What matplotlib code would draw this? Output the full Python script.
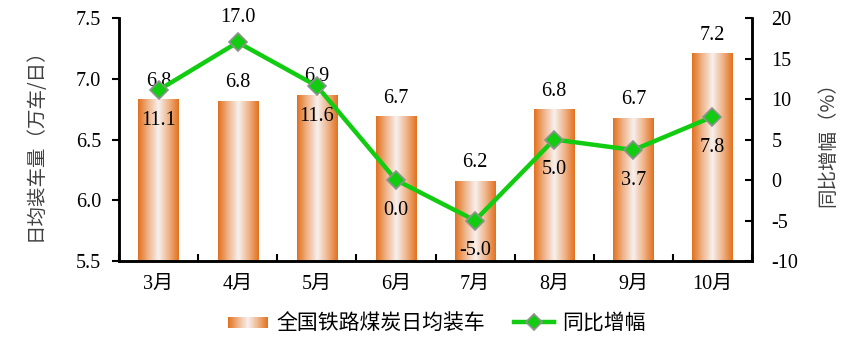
import matplotlib
matplotlib.use("Agg")
import matplotlib.pyplot as plt
import numpy as np
from matplotlib.colors import LinearSegmentedColormap
from matplotlib.legend_handler import HandlerBase
from matplotlib.patches import Rectangle
from matplotlib.lines import Line2D

months = ["3月", "4月", "5月", "6月", "7月", "8月", "9月", "10月"]
loading = [6.83, 6.82, 6.87, 6.69, 6.16, 6.75, 6.68, 7.21]
loading_labels = ["6.8", "6.8", "6.9", "6.7", "6.2", "6.8", "6.7", "7.2"]
yoy = [11.1, 17.0, 11.6, 0.0, -5.0, 5.0, 3.7, 7.8]
yoy_labels = ["11.1", "17.0", "11.6", "0.0", "-5.0", "5.0", "3.7", "7.8"]
yoy_above = [False, True, False, False, False, False, False, False]

SERIF = ["Liberation Serif", "Noto Sans CJK SC"]
CJK = ["Noto Sans CJK SC", "DejaVu Sans"]

cmap = LinearSegmentedColormap.from_list(
    "og", ["#E2701E", "#EFB48A", "#F6F0EE", "#EFB48A", "#E2701E"])

fig = plt.figure(figsize=(8.65, 3.54), dpi=100)
ax = fig.add_axes([119/865, 1-261/354, (752-119)/865, (261-18)/354])
ax2 = ax.twinx()

x = np.arange(len(months))
bars = ax.bar(x, loading, width=0.51, color="none", edgecolor="none", zorder=2)
grad = np.linspace(0, 1, 256).reshape(1, -1)
for b in bars:
    x0, y0 = b.get_x(), b.get_y()
    w, h = b.get_width(), b.get_height()
    im = ax.imshow(grad, cmap=cmap, aspect="auto", extent=(x0, x0 + w, 5.5, y0 + h),
                   zorder=2, interpolation="bilinear")
    im.set_clip_path(b)

ax.set_xlim(-0.5, len(months) - 0.5)
ax.set_ylim(5.5, 7.5)
ax.set_yticks([5.5, 6.0, 6.5, 7.0, 7.5])
ax.set_yticklabels(["5.5", "6.0", "6.5", "7.0", "7.5"], family=SERIF, fontsize=14.5)
ax.set_xticks(x)
ax.set_xticklabels(months, family=SERIF, fontsize=14.5)
ax.set_xticks(np.arange(len(months) + 1) - 0.5, minor=True)
ax.tick_params(axis="x", which="major", length=0, pad=10)
ax.tick_params(axis="x", which="minor", direction="in", length=5, width=1.5)
ax.tick_params(axis="y", direction="out", length=5, width=1.5, pad=8)
ax.set_ylabel("日均装车量（万车/日）", family=CJK, fontsize=14, color="#404040", labelpad=22)

for s in ["top"]:
    ax.spines[s].set_visible(False)
    ax2.spines[s].set_visible(False)
for s in ["left", "bottom", "right"]:
    ax.spines[s].set_linewidth(1.8)
    ax2.spines[s].set_linewidth(1.8)

for xi, v, lab in zip(x, loading, loading_labels):
    ax.annotate(lab, (xi, v), xytext=(0, 6), textcoords="offset points",
                ha="center", va="bottom", family=SERIF, fontsize=14.5, zorder=5)

ax2.plot(x, yoy, color="#11CC11", lw=3.2, marker="D", markersize=9,
         markerfacecolor="#11CC11", markeredgecolor="#909090", markeredgewidth=1.2, zorder=4)
ax2.set_ylim(-10, 20)
ax2.set_yticks([-10, -5, 0, 5, 10, 15, 20])
ax2.set_yticklabels(["-10", "-5", "0", "5", "10", "15", "20"], family=SERIF, fontsize=14.5)
ax2.tick_params(axis="y", direction="in", length=5, width=1.5, pad=14)
ax2.set_ylabel("同比增幅（%）", family=CJK, fontsize=14, color="#404040",
               rotation=90, labelpad=14)

for xi, v, lab, up in zip(x, yoy, yoy_labels, yoy_above):
    if up:
        ax2.annotate(lab, (xi, v), xytext=(0, 11), textcoords="offset points",
                     ha="center", va="bottom", family=SERIF, fontsize=14.5, zorder=5)
    else:
        ax2.annotate(lab, (xi, v), xytext=(0, -15), textcoords="offset points",
                     ha="center", va="top", family=SERIF, fontsize=14.5, zorder=5)

ax.set_zorder(1)
ax2.set_zorder(2)
ax2.patch.set_visible(False)


class GradHandler(HandlerBase):
    def create_artists(self, legend, orig_handle, xdescent, ydescent, width, height,
                       fontsize, trans):
        n = 40
        arts = []
        for i in range(n):
            c = cmap((i + 0.5) / n)
            r = Rectangle((i * width / n, height * 0.05), width / n + 0.3,
                          height * 0.8, facecolor=c, edgecolor="none", transform=trans)
            arts.append(r)
        return arts


bar_handle = Rectangle((0, 0), 1, 1)
line_handle = Line2D([], [], color="#11CC11", lw=3.2, marker="D", markersize=8,
                     markerfacecolor="#11CC11", markeredgecolor="#909090", markeredgewidth=1.2)
fig.legend([bar_handle, line_handle], ["全国铁路煤炭日均装车", "同比增幅"],
           handler_map={Rectangle: GradHandler()}, loc="center",
           bbox_to_anchor=(0.505, 1 - 323/354), ncol=2, frameon=False,
           prop={"family": CJK, "size": 15}, handlelength=1.9, columnspacing=1.4,
           handletextpad=0.4)

fig.savefig("out.png", dpi=100)
